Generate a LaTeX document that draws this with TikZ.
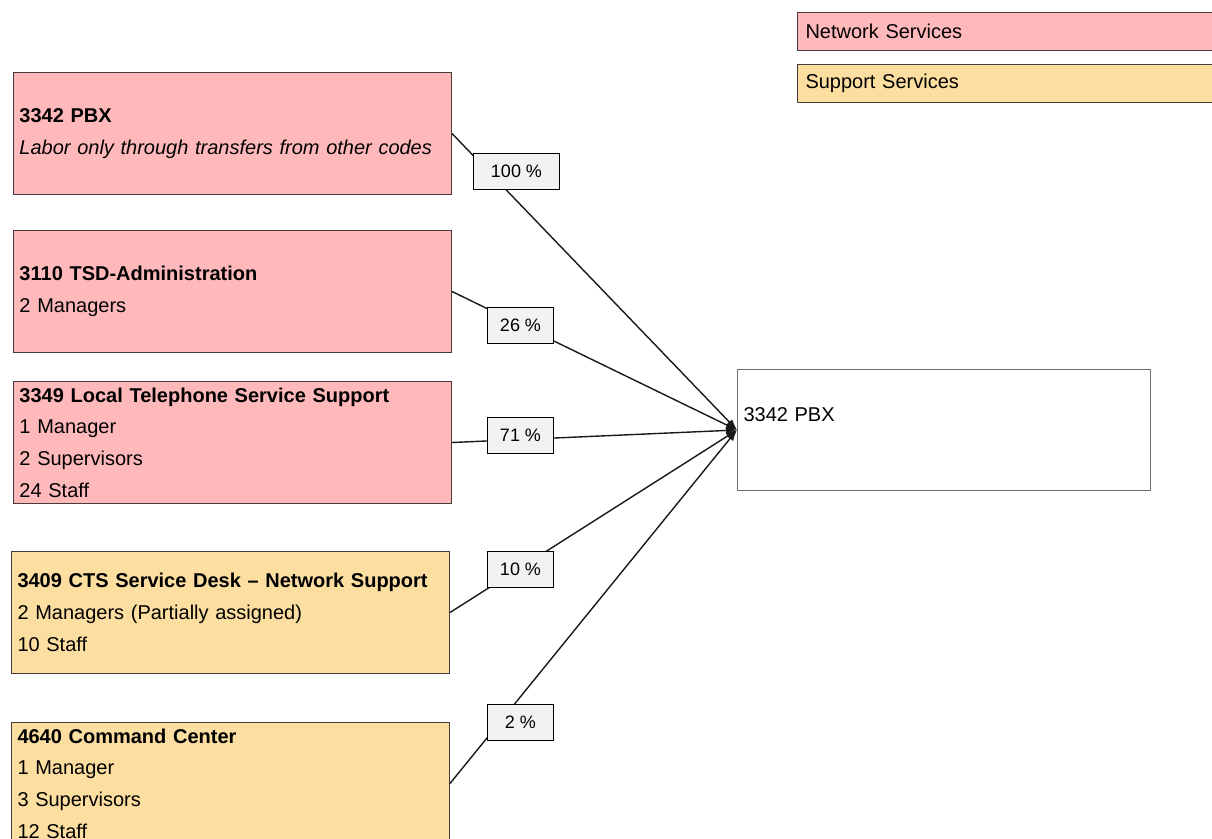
\documentclass[tikz,border=0pt]{standalone}
\usepackage{fontspec}
\setmainfont{Liberation Sans}
\usetikzlibrary{arrows.meta}

\definecolor{netpink}{RGB}{255,185,187}
\definecolor{suptan}{RGB}{252,222,160}
\definecolor{boxline}{RGB}{70,60,60}
\definecolor{tgtline}{RGB}{110,110,110}
\definecolor{pctfill}{RGB}{242,242,242}

\tikzset{
  unitbox/.style={rectangle, draw=boxline, line width=1pt, anchor=north west,
    align=left, text width=426pt, inner xsep=6pt, inner ysep=0pt,
    minimum height=122pt, font=\fontsize{20}{31.7}\selectfont},
  netbox/.style={unitbox, fill=netpink},
  supbox/.style={unitbox, fill=suptan},
  tgtbox/.style={rectangle, draw=tgtline, line width=1pt, anchor=north west,
    align=left, text width=401pt, inner xsep=6pt, inner ysep=0pt,
    minimum height=121pt, fill=white, font=\fontsize{20}{31.7}\selectfont},
  legendbox/.style={rectangle, draw=boxline, line width=1pt, anchor=north west,
    align=left, text width=417pt, inner xsep=8pt, inner ysep=0pt,
    minimum height=38pt, font=\fontsize{20}{24}\selectfont},
  pct/.style={rectangle, draw=black, line width=1pt, fill=pctfill,
    anchor=north west, minimum height=36pt, inner sep=0pt,
    font=\fontsize{18}{20}\selectfont},
  feed/.style={line width=1.4pt, draw=black!90,
    -{Latex[length=11pt,width=8pt]}}
}

\begin{document}
\begin{tikzpicture}[x=1pt,y=-1pt]
\useasboundingbox (0,0) rectangle (1212,838);

% legend
\node[legendbox, fill=netpink] (legnet) at (797,12) {Network Services};
\node[legendbox, fill=suptan]  (legsup) at (797,64) {Support Services};

% cost codes feeding the PBX
\node[netbox] (pbx) at (13,72)
  {\textbf{3342 PBX}\\\textit{Labor only through transfers from other codes}};
\node[netbox] (tsd) at (13,230)
  {\textbf{3110 TSD-Administration}\\2 Managers};
\node[netbox] (lts) at (13,381)
  {\textbf{3349 Local Telephone Service Support}\\1 Manager\\2 Supervisors\\24 Staff};
\node[supbox] (cts) at (11,551)
  {\textbf{3409 CTS Service Desk – Network Support}\\2 Managers (Partially assigned)\\10 Staff};
\node[supbox] (cmd) at (11,722)
  {\textbf{4640 Command Center}\\1 Manager\\3 Supervisors\\12 Staff};

% receiving code
\node[tgtbox] (tgt) at (737,369) {3342 PBX\\\mbox{}};

% allocation lines
\draw[feed] (pbx.east) -- (tgt.west);
\draw[feed] (tsd.east) -- (tgt.west);
\draw[feed] (lts.east) -- (tgt.west);
\draw[feed] (cts.east) -- (tgt.west);
\draw[feed] (cmd.east) -- (tgt.west);

% percentage tags
\node[pct, minimum width=86pt] (p100) at (473,153) {100 \%};
\node[pct, minimum width=66pt] (p26)  at (487,307) {26 \%};
\node[pct, minimum width=66pt] (p71)  at (487,417) {71 \%};
\node[pct, minimum width=66pt] (p10)  at (487,551) {10 \%};
\node[pct, minimum width=66pt] (p2)   at (487,704) {2 \%};
\end{tikzpicture}
\end{document}
